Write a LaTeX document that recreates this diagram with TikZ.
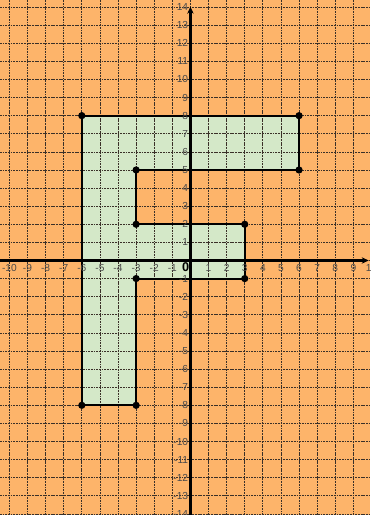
\documentclass[tikz,border=0pt]{standalone}
\usepackage{fontspec}
\setmainfont{Liberation Sans}
\usetikzlibrary{arrows.meta}
\definecolor{bgorange}{HTML}{FDB46A}
\definecolor{shapegreen}{HTML}{D4E8C8}
\definecolor{labelgray}{HTML}{4A4A4A}
\definecolor{gridcol}{HTML}{3A3028}
\tikzset{
  gridline/.style={gridcol, line width=1.1pt, dash pattern=on 2.8pt off 1.4pt},
  axisline/.style={black, line width=3.4pt, -{Stealth[length=11pt,width=10pt]}},
  outline/.style={black, line width=3.4pt, line join=miter},
  vertexdot/.style={circle, fill=black, inner sep=0pt, minimum size=0.4cm},
  ticklabel/.style={text=labelgray, font=\fontsize{16}{17}\selectfont, inner sep=0pt}
}
\begin{document}
\begin{tikzpicture}
\fill[bgorange] (-10.52,-14.06) rectangle (9.92,14.39);
\useasboundingbox (-10.52,-14.06) rectangle (9.92,14.39);
% vertices
\coordinate (v1) at (-6,8);
\coordinate (v2) at (6,8);
\coordinate (v3) at (6,5);
\coordinate (v4) at (-3,5);
\coordinate (v5) at (-3,2);
\coordinate (v6) at (3,2);
\coordinate (v7) at (3,-1);
\coordinate (v8) at (-3,-1);
\coordinate (v9) at (-3,-8);
\coordinate (v10) at (-6,-8);
\fill[shapegreen] (v1) -- (v2) -- (v3) -- (v4) -- (v5) -- (v6) -- (v7) -- (v8) -- (v9) -- (v10) -- cycle;
% grid
\foreach \x in {-10,...,9} {\draw[gridline] (\x,-14.06) -- (\x,14.39);}
\foreach \y in {-14,...,14} {\draw[gridline] (-10.52,\y) -- (9.92,\y);}
% axes
\coordinate (xs) at (-10.52,0);
\coordinate (xe) at (9.85,0);
\coordinate (ys) at (0,-14.06);
\coordinate (ye) at (0,14.02);
\draw[axisline] (xs) -- (xe);
\draw[axisline] (ys) -- (ye);
% outline
\draw[outline] (v1) -- (v2) -- (v3) -- (v4) -- (v5) -- (v6) -- (v7) -- (v8) -- (v9) -- (v10) -- cycle;
\foreach \i in {1,...,10} {\node[vertexdot] (d\i) at (v\i) {};}
% labels
\foreach \x in {-10,...,-1,1,2,...,10} {\node[ticklabel] (lx\x) at (\x,-0.4) {\x};}
\foreach \y in {-14,...,-1,1,2,...,14} {\node[ticklabel, anchor=east] (ly\y) at (-0.12,\y) {\y};}
\node[font=\fontsize{20}{21}\selectfont\bfseries, inner sep=0pt] (o) at (-0.27,-0.38) {0};
\end{tikzpicture}
\end{document}
